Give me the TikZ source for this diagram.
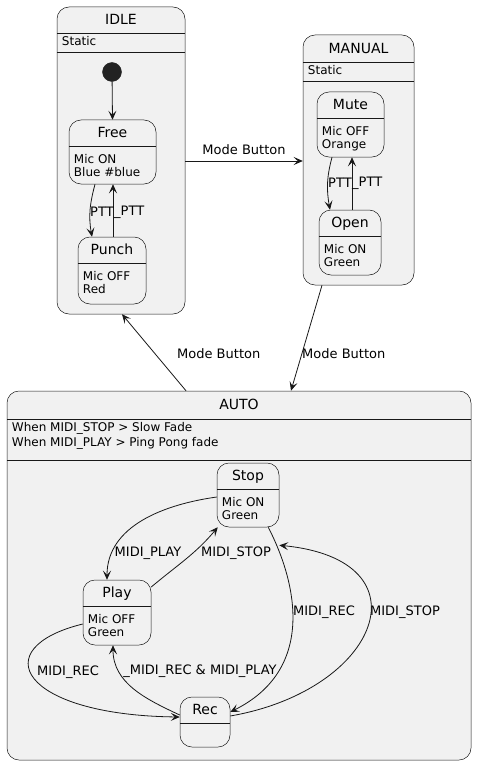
\documentclass[tikz,border=0pt]{standalone}
\usepackage{fontspec}
\setmainfont{DejaVu Sans}
\usetikzlibrary{arrows.meta,fit,calc}
\definecolor{stfill}{HTML}{F1F1F1}
\definecolor{stline}{HTML}{181818}
\definecolor{initc}{HTML}{222222}
\newcommand\mkstate[7]{%
  \node[st, fit={(#2,#3) (#4,#5)}] (#1) {};
  \draw[sepline] (#1.west |- 0,#6) -- (#1.east |- 0,#6);
  \node[ttl] (#1-t) at ($(#1.north)!0.5!(#1.north |- 0,#6)$) {#7};
}
\begin{document}
\begin{tikzpicture}[x=1pt,y=-1pt,
  st/.style={draw=stline, fill=stfill, rounded corners=12pt, line width=0.5pt, inner sep=0pt},
  sepline/.style={draw=stline, line width=0.5pt},
  ttl/.style={font=\fontsize{14}{16}\selectfont, inner sep=0pt, text height=10pt, text depth=0pt},
  dsc/.style={font=\fontsize{12}{13.5}\selectfont, align=left, inner sep=0pt, anchor=north west},
  cdsc/.style={font=\fontsize{12}{15.5}\selectfont, align=left, inner sep=0pt, anchor=north west},
  lbl/.style={font=\fontsize{13}{15}\selectfont, inner sep=0pt},
  arr/.style={draw=stline, line width=0.8pt, -{Stealth[length=9pt,width=8pt,inset=4pt]}}]
\useasboundingbox (0,0) rectangle (484,773);

% composite states
\mkstate{idle}{57}{7}{185}{314}{33}{IDLE}
\draw[sepline] (idle.west |- 0,52) -- (idle.east |- 0,52);
\node[cdsc] (idle-d) at ($(idle.west |- 0,33)+(5,3)$) {Static};

\mkstate{manual}{303}{35}{414}{285}{62}{MANUAL}
\draw[sepline] (manual.west |- 0,81) -- (manual.east |- 0,81);
\node[cdsc] (manual-d) at ($(manual.west |- 0,62)+(5,3)$) {Static};

\mkstate{auto}{7}{391}{471}{760}{419}{AUTO}
\draw[sepline] (auto.west |- 0,460) -- (auto.east |- 0,460);
\node[cdsc] (auto-d) at ($(auto.west |- 0,419)+(5,3)$) {When MIDI\_STOP > Slow Fade\\When MIDI\_PLAY > Ping Pong fade};

% simple states
\mkstate{free}{69}{120}{156}{184}{146}{Free}
\node[dsc] (free-d) at ($(free.west |- 0,146)+(5,8)$) {Mic ON\\Blue \#blue};
\mkstate{punch}{78}{237}{146}{304}{263}{Punch}
\node[dsc] (punch-d) at ($(punch.west |- 0,263)+(5,8)$) {Mic OFF\\Red};
\mkstate{mute}{317}{92}{384}{157}{118}{Mute}
\node[dsc] (mute-d) at ($(mute.west |- 0,118)+(5,8)$) {Mic OFF\\Orange};
\mkstate{open}{319}{210}{381}{275}{236}{Open}
\node[dsc] (open-d) at ($(open.west |- 0,236)+(5,8)$) {Mic ON\\Green};
\mkstate{stop}{217}{463}{279}{527}{489}{Stop}
\node[dsc] (stop-d) at ($(stop.west |- 0,489)+(5,8)$) {Mic ON\\Green};
\mkstate{play}{83}{580}{151}{645}{606}{Play}
\node[dsc] (play-d) at ($(play.west |- 0,606)+(5,8)$) {Mic OFF\\Green};
\mkstate{rec}{180}{697}{230}{747}{723}{Rec}

\node[circle, fill=initc, draw=initc, minimum size=19pt, inner sep=0pt] (init) at (112,72) {};

% IDLE internals
\draw[arr] (init) -- (free.north);
\draw[arr] ([xshift=-17.5pt]free.south) to[out=-105,in=100] ([xshift=-20pt]punch.north);
\draw[arr] ([xshift=1pt]punch.north) -- ([xshift=0.5pt]free.south);
\node[lbl, anchor=west] (l-ptt1) at (90,212) {PTT};
\node[lbl, anchor=west] (l-ptt2) at (114,212) {\_PTT};

% MANUAL internals
\draw[arr] ([xshift=-18.5pt]mute.south) to[out=-105,in=100] ([xshift=-20pt]open.north);
\draw[arr] ([xshift=2pt]open.north) -- ([xshift=1.5pt]mute.south);
\node[lbl, anchor=west] (l-ptt3) at (328,183) {PTT};
\node[lbl, anchor=west] (l-ptt4) at (352,183) {\_PTT};

% between composites
\draw[arr] (idle.east |- 0,161) -- (manual.west |- 0,161);
\node[lbl] (l-mb1) at (244,150) {Mode Button};
\draw[arr] ([xshift=-36.5pt]manual.south) -- ([xshift=52pt]auto.north);
\node[lbl, anchor=west] (l-mb2) at (302,354) {Mode Button};
\draw[arr] ([xshift=-53pt]auto.north) -- ([xshift=1pt]idle.south);
\node[lbl, anchor=west] (l-mb3) at (177,354) {Mode Button};

% AUTO internals
\draw[arr] (stop.west |- 0,497) to[out=188,in=90] ([xshift=-10pt]play.north);
\node[lbl] (l-a1) at (148,553) {MIDI\_PLAY};
\draw[arr] (play.east |- 0,587) to[out=40,in=-130] ([xshift=1pt]stop.south west);
\node[lbl] (l-a2) at (236,553) {MIDI\_STOP};
\draw[arr] ([xshift=-11pt]stop.south east) .. controls (298,585) and (315,670) .. (rec.east |- 0,712);
\node[lbl] (l-a3) at (324,612) {MIDI\_REC};
\draw[arr] (rec.east |- 0,716) .. controls (380,690) and (430,560) .. ([yshift=-18pt]stop.south east);
\node[lbl] (l-a4) at (405,612) {MIDI\_STOP};
\draw[arr] (play.west |- 0,624) .. controls (-15,648) and (20,715) .. (rec.west |- 0,717);
\node[lbl] (l-a5) at (68,672) {MIDI\_REC};
\draw[arr] (rec.west |- 0,715) to[out=155,in=-90] ([xshift=-4pt]play.south);
\node[lbl] (l-a6) at (200,671) {\_MIDI\_REC \& MIDI\_PLAY};
\end{tikzpicture}
\end{document}
